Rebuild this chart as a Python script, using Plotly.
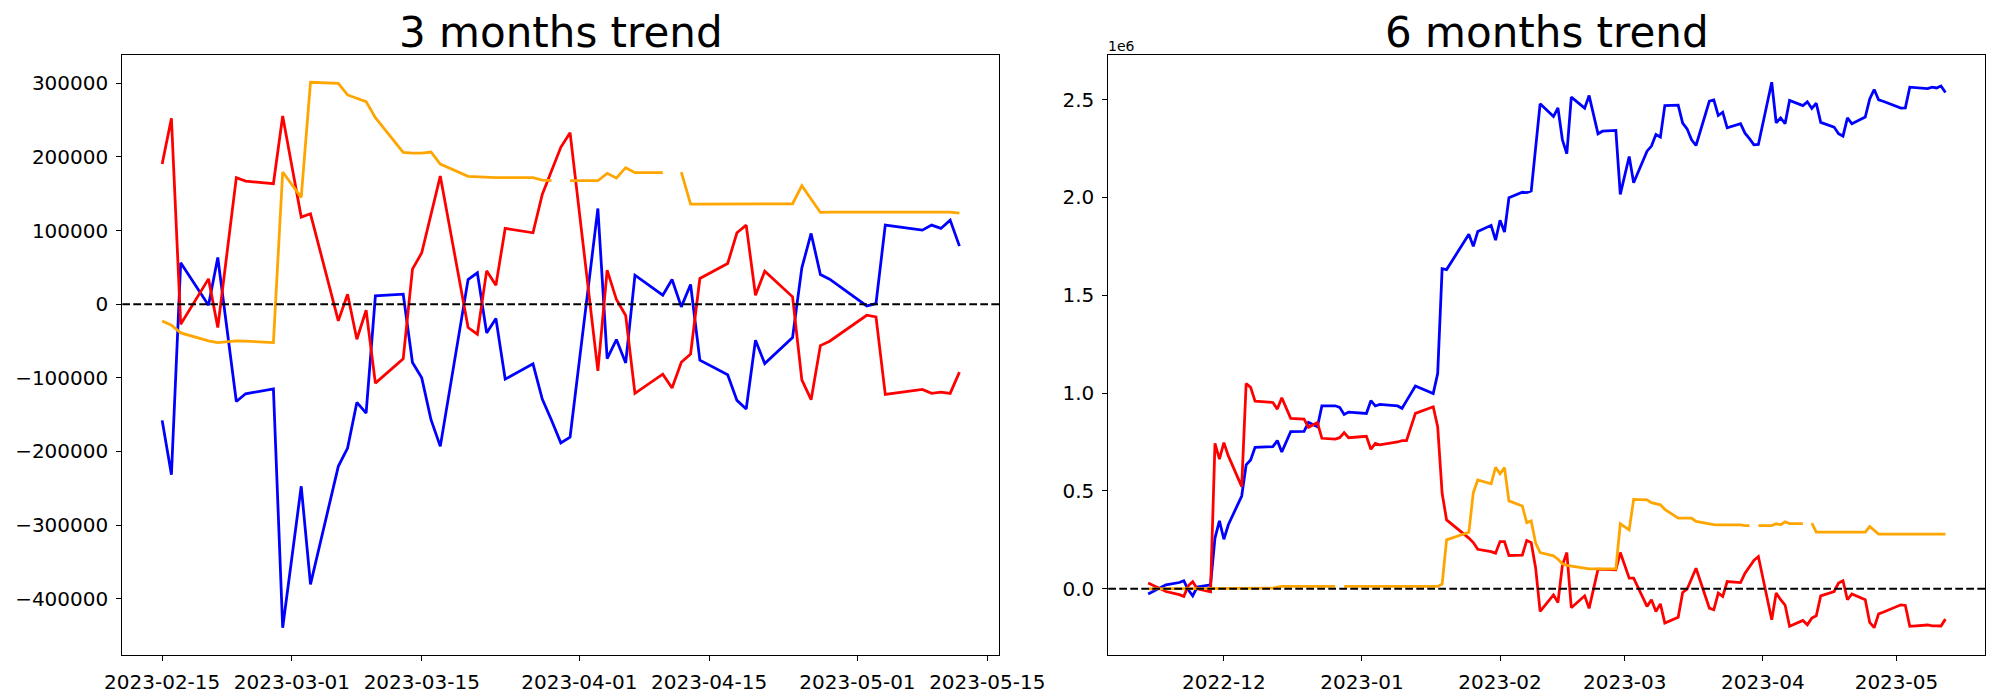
import plotly.graph_objects as go
import pandas as pd

# ---------------- 3 months data ----------------
dates_3m = ["2023-02-15","2023-02-16","2023-02-17","2023-02-20","2023-02-21","2023-02-23","2023-02-24",
            "2023-02-27","2023-02-28","2023-03-02","2023-03-03","2023-03-06","2023-03-07","2023-03-08",
            "2023-03-09","2023-03-10","2023-03-13","2023-03-14","2023-03-15","2023-03-16","2023-03-17",
            "2023-03-20","2023-03-21","2023-03-22","2023-03-23","2023-03-24","2023-03-27","2023-03-28",
            "2023-03-29","2023-03-30","2023-03-31","2023-04-03","2023-04-04","2023-04-05","2023-04-06",
            "2023-04-07","2023-04-10","2023-04-11","2023-04-12","2023-04-13","2023-04-14","2023-04-17",
            "2023-04-18","2023-04-19","2023-04-20","2023-04-21","2023-04-24","2023-04-25","2023-04-26",
            "2023-04-27","2023-04-28","2023-05-02","2023-05-03","2023-05-04","2023-05-08","2023-05-09",
            "2023-05-10","2023-05-11","2023-05-12"]
blue_3m = [-157800,-231500,56200,-1400,63400,-132100,-121700,
           -114900,-439400,-247300,-380600,-220200,-195400,-133400,
           -147900,11300,13600,-79200,-100000,-156900,-193100,
           33500,42600,-39000,-19500,-101800,-81000,-128900,
           -157600,-188300,-180600,130000,-73900,-48000,-79800,
           39400,12200,33500,-3600,26700,-76100,-95900,
           -130600,-142300,-48900,-80700,-45300,49400,96100,
           40300,34000,-2300,900,107400,100600,107400,
           102900,114200,78900]
red_3m = [190300,252400,-27200,34400,-31700,171800,167200,
          163600,255600,118300,122800,-22700,13600,-47600,
          -8200,-107200,-74300,47600,69800,122000,174000,
          -31700,-40800,45300,25800,102900,97000,149000,
          180000,213000,233000,-90500,46200,6300,-15400,
          -121100,-95000,-113900,-78800,-67600,34900,55300,
          97000,107400,12200,44900,10000,-102700,-129700,
          -56200,-50300,-15000,-17200,-122400,-115700,-121100,
          -119400,-121100,-92300]
orange_3m = [-22700,-28500,-39000,-49900,-52100,-49900,-50300,
             -52100,179500,145000,301400,300000,284200,279600,
             275100,253300,206200,205300,205300,206700,190300,
             173600,172700,171800,171800,171800,171800,168600,
             167700,None,167700,167700,177700,171300,185400,
             178600,178600,None,179500,136000,136000,136000,
             136000,136000,136200,136400,136400,160900,142800,
             124600,125100,125100,125100,125100,125100,125100,
             125100,125100,123700]
ticks_3m = ["2023-02-15","2023-03-01","2023-03-15","2023-04-01","2023-04-15","2023-05-01","2023-05-15"]
yticks_3m = [-400000, -300000, -200000, -100000, 0, 100000, 200000, 300000]
yticklabels_3m = ["\u2212400000", "\u2212300000", "\u2212200000", "\u2212100000", "0", "100000", "200000", "300000"]

# ---------------- 6 months data ----------------
dates_6m = ["2022-11-14","2022-11-16","2022-11-17","2022-11-18","2022-11-21","2022-11-22","2022-11-23",
            "2022-11-24","2022-11-25","2022-11-28","2022-11-29","2022-11-30","2022-12-01","2022-12-02",
            "2022-12-05","2022-12-06","2022-12-07","2022-12-08","2022-12-12","2022-12-13","2022-12-14",
            "2022-12-16","2022-12-19","2022-12-20","2022-12-22","2022-12-23","2022-12-26","2022-12-27",
            "2022-12-28","2022-12-29","2023-01-02","2023-01-03","2023-01-04","2023-01-05","2023-01-09",
            "2023-01-10","2023-01-11","2023-01-13","2023-01-17","2023-01-18","2023-01-19","2023-01-20",
            "2023-01-25","2023-01-26","2023-01-27","2023-01-30","2023-01-31","2023-02-01","2023-02-02",
            "2023-02-03","2023-02-06","2023-02-07","2023-02-08","2023-02-09","2023-02-10","2023-02-13",
            "2023-02-14","2023-02-15","2023-02-16","2023-02-17","2023-02-20","2023-02-21","2023-02-23",
            "2023-02-24","2023-02-27","2023-02-28","2023-03-02","2023-03-03","2023-03-06","2023-03-07",
            "2023-03-08","2023-03-09","2023-03-10","2023-03-13","2023-03-14","2023-03-15","2023-03-16",
            "2023-03-17","2023-03-20","2023-03-21","2023-03-22","2023-03-23","2023-03-24","2023-03-27",
            "2023-03-28","2023-03-29","2023-03-30","2023-03-31","2023-04-03","2023-04-04","2023-04-05",
            "2023-04-06","2023-04-07","2023-04-10","2023-04-11","2023-04-12","2023-04-13","2023-04-14",
            "2023-04-17","2023-04-18","2023-04-19","2023-04-20","2023-04-21","2023-04-24","2023-04-25",
            "2023-04-26","2023-04-27","2023-04-28","2023-05-02","2023-05-03","2023-05-04","2023-05-08",
            "2023-05-09","2023-05-10","2023-05-11","2023-05-12"]
blue_6m = [-27000,-5000,5000,20000,32000,41000,-5000,
           -36000,9000,20000,259000,347000,253000,327000,
           474000,633000,658000,723000,726000,757000,699000,
           803000,804000,850000,828000,934000,935000,927000,
           891000,903000,896000,961000,934000,942000,934000,
           922000,960000,1036000,998000,1100000,1636000,1631000,
           1811000,1750000,1825000,1857000,1781000,1883000,1823000,
           1998000,2026000,2024000,2032000,2260000,2478000,2413000,
           2457000,2294000,2223000,2512000,2456000,2520000,2325000,
           2338000,2342000,2015000,2209000,2075000,2236000,2262000,
           2321000,2308000,2469000,2471000,2379000,2350000,2294000,
           2265000,2492000,2498000,2418000,2435000,2355000,2376000,
           2328000,2300000,2269000,2270000,2588000,2381000,2406000,
           2376000,2495000,2469000,2488000,2454000,2481000,2383000,
           2359000,2325000,2313000,2406000,2376000,2410000,2503000,
           2551000,2498000,2491000,2456000,2457000,2563000,2556000,
           2563000,2559000,2569000,2536000]
red_6m = [29000,9000,0,-14000,-30000,-39000,15000,
          36000,0,-15000,743000,662000,747000,679000,
          522000,1049000,1029000,959000,952000,918000,976000,
          871000,867000,825000,849000,769000,765000,772000,
          798000,772000,779000,713000,743000,735000,750000,
          757000,757000,896000,930000,828000,488000,352000,
          259000,236000,202000,190000,182000,241000,241000,
          170000,172000,247000,236000,105000,-116000,-31000,
          -70000,120000,185000,-97000,-36000,-100000,100000,
          100000,97000,185000,54000,54000,-90000,-56000,
          -116000,-77000,-175000,-145000,-19000,-2000,50000,
          105000,-99000,-107000,-22000,-39000,37000,32000,
          80000,115000,145000,165000,-158000,-22000,-56000,
          -83000,-192000,-162000,-184000,-150000,-138000,-36000,
          -14000,29000,41000,-56000,-26000,-56000,-172000,
          -199000,-128000,-120000,-82000,-85000,-192000,-185000,
          -190000,-189000,-190000,-155000]
orange_6m = [0,0,0,0,0,0,0,
             0,0,0,0,0,0,0,
             0,0,0,0,3000,8000,12000,
             12000,12000,12000,12000,12000,12000,None,
             12000,12000,12000,12000,12000,12000,12000,
             12000,12000,12000,12000,12000,24000,250000,
             289000,491000,556000,536000,621000,587000,619000,
             449000,423000,338000,347000,233000,185000,168000,
             151000,128000,120000,117000,105000,102000,102000,
             102000,102000,332000,301000,457000,454000,440000,
             435000,429000,406000,361000,361000,361000,361000,
             344000,330000,328000,327000,327000,327000,327000,
             323000,323000,None,323000,323000,332000,327000,
             342000,333000,333000,None,335000,289000,289000,
             289000,289000,289000,289000,289000,289000,318000,
             299000,279000,279000,279000,279000,279000,279000,
             279000,279000,279000,279000]
ticks_6m = ["2022-12-01","2023-01-01","2023-02-01","2023-03-01","2023-04-01","2023-05-01"]
yticks_6m = [0, 500000, 1000000, 1500000, 2000000, 2500000]
yticklabels_6m = ["0.0", "0.5", "1.0", "1.5", "2.0", "2.5"]
titles = ["3 months trend", "6 months trend"]

# Figure fills the whole 2000x700 window (page body margin removed below).
W, H = 2000, 700
FONT = "DejaVu Sans"
colors = {"blue": "#0000ff", "red": "#ff0000", "orange": "#ffa500"}


def fx(px):
    return px / W


def fy(py):
    return 1 - py / H


fig = go.Figure()


def add_lines(dates, blue, red, orange, xa, ya):
    for vals, c in ((blue, "blue"), (red, "red"), (orange, "orange")):
        fig.add_trace(go.Scatter(x=pd.to_datetime(dates), y=vals, mode="lines",
                                 line=dict(color=colors[c], width=2.78),
                                 connectgaps=False, showlegend=False,
                                 xaxis=xa, yaxis=ya))


add_lines(dates_3m, blue_3m, red_3m, orange_3m, "x", "y")
add_lines(dates_6m, blue_6m, red_6m, orange_6m, "x2", "y2")


def padded_range(vals):
    v = [a for a in vals if a is not None]
    lo, hi = min(v), max(v)
    m = (hi - lo) * 0.05
    return [lo - m, hi + m]


def padded_dates(dates):
    d = pd.to_datetime(dates)
    lo, hi = d.min(), d.max()
    m = (hi - lo) * 0.05
    return [lo - m, hi + m]


xd1 = [fx(122.3), fx(999.3)]
xd2 = [fx(1108.3), fx(1985.3)]
yd = [fy(655), fy(55)]

axis_common = dict(showline=True, mirror=True, linecolor="black", linewidth=1.1,
                   ticks="outside", ticklen=5, tickwidth=1.1, tickcolor="black",
                   showgrid=False, zeroline=False, automargin=False,
                   tickfont=dict(family=FONT, size=20, color="black"))

fig.update_layout(
    width=W, height=H,
    margin=dict(l=0, r=0, t=0, b=0),
    paper_bgcolor="white", plot_bgcolor="white",
    hovermode=False,
    xaxis=dict(domain=xd1, anchor="y", type="date",
               range=padded_dates(dates_3m),
               tickvals=pd.to_datetime(ticks_3m), tickformat="%Y-%m-%d",
               ticklabelstandoff=4, **axis_common),
    yaxis=dict(domain=yd, anchor="x",
               range=padded_range(blue_3m + red_3m + orange_3m),
               tickvals=yticks_3m, ticktext=yticklabels_3m,
               ticklabelstandoff=4, **axis_common),
    xaxis2=dict(domain=xd2, anchor="y2", type="date",
                range=padded_dates(dates_6m),
                tickvals=pd.to_datetime(ticks_6m), tickformat="%Y-%m",
                ticklabelstandoff=4, **axis_common),
    yaxis2=dict(domain=yd, anchor="x2",
                range=padded_range(blue_6m + red_6m + orange_6m),
                tickvals=yticks_6m, ticktext=yticklabels_6m,
                ticklabelstandoff=4, **axis_common),
)

# zero reference lines (dashed)
for xr, yr in (("x domain", "y"), ("x2 domain", "y2")):
    fig.add_shape(type="line", xref=xr, yref=yr, x0=0, x1=1, y0=0, y1=0,
                  line=dict(color="black", width=2.1, dash="7.7px,3.3px"), layer="above")

# titles
for t, xd in zip(titles, (xd1, xd2)):
    fig.add_annotation(text=t, xref="paper", yref="paper",
                       x=(xd[0] + xd[1]) / 2, y=yd[1], xanchor="center", yanchor="bottom",
                       yshift=-4, showarrow=False,
                       font=dict(family=FONT, size=42, color="black"))

# offset text for 6 months y axis
fig.add_annotation(text="1e6", xref="paper", yref="paper", x=xd2[0], y=yd[1],
                   xanchor="left", yanchor="bottom", yshift=-1, xshift=-2, showarrow=False,
                   font=dict(family=FONT, size=14, color="black"))

fig.write_html("out.html",
               config={"displayModeBar": False},
               post_script="document.body.style.margin='0';document.body.style.overflow='hidden';")
